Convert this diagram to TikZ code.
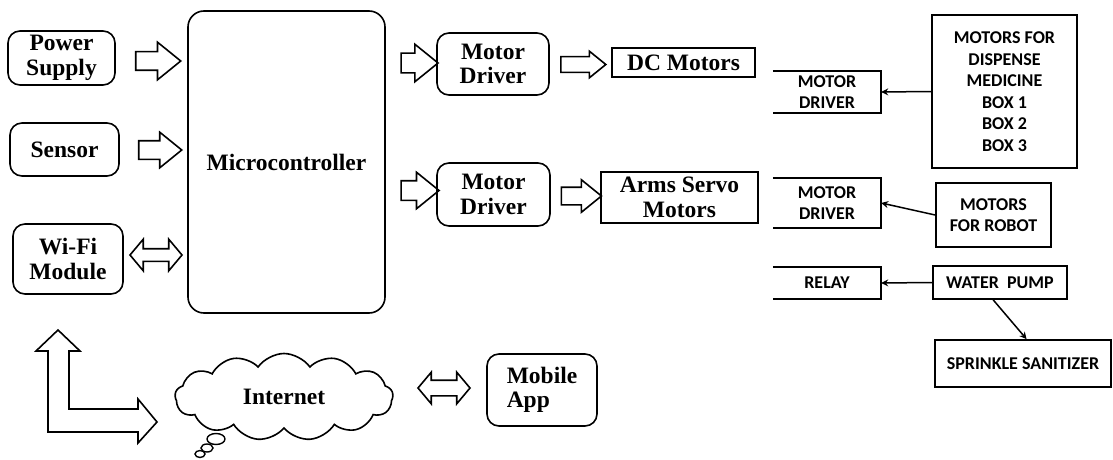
\documentclass[tikz,border=0pt]{standalone}
\usepackage{fontspec}
\setmainfont{Liberation Serif}
\newfontfamily\calibri{Carlito}
\usetikzlibrary{arrows.meta, positioning, shapes.arrows, shapes.symbols, calc}
\newcommand{\serifbig}{\bfseries\fontsize{23.5}{24.5}\selectfont}
\newcommand{\capsfont}{\calibri\bfseries\fontsize{18}{21.5}\selectfont}
\tikzset{
  rbox/.style   = {draw, line width=1.6pt, rounded corners=12pt, align=center,
                   font=\serifbig, inner sep=0pt},
  sbox/.style   = {draw, line width=1.6pt, align=center, font=\serifbig, inner sep=0pt},
  cbox/.style   = {draw, line width=1.8pt, align=center, font=\capsfont, inner sep=0pt},
  obox/.style   = {align=center, font=\capsfont, inner sep=0pt},
  frame/.style  = {line width=1.8pt},
  barrow/.style = {single arrow, draw, line width=1.6pt, inner xsep=0pt,
                   single arrow tip angle=78, miter limit=4},
  darrow/.style = {double arrow, draw, line width=1.6pt, inner xsep=0pt,
                   double arrow tip angle=100},
  link/.style   = {-{Stealth[length=7pt, width=7pt]}, line width=1.5pt},
}

\begin{document}
\begin{tikzpicture}[x=1pt, y=-1pt]
  \path[fill=white] (0,0) rectangle (1113,460);
  \useasboundingbox (0,0) rectangle (1113,460);
  % inputs and controller
  \node[rbox, minimum width=107pt, minimum height=54pt] (pwr) at (61.5,58) {Power\\Supply};
  \node[rbox, minimum width=109pt, minimum height=53pt] (sens) at (64.5,149.5) {Sensor};
  \node[rbox, minimum width=110pt, minimum height=70pt] (wifi) at (68,259) {Wi-Fi\\Module};
  \node[rbox, rounded corners=16pt, minimum width=197pt, minimum height=302pt] (mcu) at (286.5,162) {Microcontroller};
  % drivers and motors
  \node[rbox, minimum width=112pt, minimum height=62pt] (drv1) at (493,64) {Motor\\Driver};
  \node[rbox, minimum width=113pt, minimum height=63pt] (drv2) at (493.5,194.5) {Motor\\Driver};
  \node[sbox, minimum width=143pt, minimum height=29pt] (dcm) at (683.5,62.5) {DC Motors};
  \node[sbox, minimum width=157pt, minimum height=51pt] (arms) at (679.5,197.5) {Arms Servo\\Motors};
  % cloud and app
  \node[cloud, draw, line width=1.6pt, cloud puffs=13, cloud puff arc=110, aspect=2.5,
        minimum width=218pt, minimum height=87pt, inner sep=0pt, font=\serifbig] (net) at (284,397) {Internet};
  \draw[line width=1.4pt] (216,439) ellipse [x radius=9pt, y radius=5.5pt];
  \draw[line width=1.4pt] (207,448) ellipse [x radius=6pt, y radius=4pt];
  \draw[line width=1.4pt] (200,454) ellipse [x radius=5pt, y radius=3.5pt];
  \node[rbox, align=left, minimum width=110pt, minimum height=72pt] (app) at (542,390) {Mobile\\App};

  % block arrows
  \foreach \n/\x/\y/\l/\w/\s in {apwr/152.5/61/45/36/17, asens/154.5/150/43/34/17,
                                 adrv1/413.5/63/37/36/18, adrv2/414/190.5/38/35/18,
                                 adcm/578.5/64.5/45/25/14, aarms/576/196/40/31/16} {
    \node[barrow, minimum height=\l pt, minimum width=\w pt, inner ysep=\s/2 pt,
          single arrow head extend={(\w-\s)/2 pt}] (\n) at (\x,\y) {};
  }
  \node[darrow, minimum height=52pt, minimum width=30pt, inner ysep=5.5pt,
        double arrow head extend=9.5pt] (awifi) at (156,255) {};
  \node[darrow, minimum height=52pt, minimum width=30pt, inner ysep=7pt,
        double arrow head extend=8pt] (aapp) at (444,388) {};
  % wifi <-> internet
  \draw[line width=1.6pt, miter limit=4] (58,330) -- (80,351) -- (69,351) -- (69,409) -- (138,409)
    -- (138,399) -- (157,422) -- (138,443) -- (138,432) -- (48,432) -- (48,351) -- (36,351) -- cycle;

  % right side units
  \node[obox, minimum width=108pt, minimum height=42pt] (rdrv1) at (827,92) {MOTOR\\DRIVER};
  \node[obox, minimum width=108pt, minimum height=50pt] (rdrv2) at (827,203) {MOTOR\\DRIVER};
  \node[obox, minimum width=108pt, minimum height=32pt] (relay) at (827,283) {RELAY};
  \foreach \b in {rdrv1, rdrv2, relay}
    \draw[frame] (\b.north west) -- (\b.north east) -- (\b.south east) -- (\b.south west);
  \node[cbox, minimum width=145pt, minimum height=153pt] (disp) at (1004.5,91.5)
    {MOTORS FOR\\DISPENSE\\MEDICINE\\BOX 1\\BOX 2\\BOX 3};
  \node[cbox, minimum width=115pt, minimum height=64pt] (robot) at (993.5,215) {MOTORS\\FOR ROBOT};
  \node[cbox, minimum width=134pt, minimum height=33pt] (pump) at (1000,282.5) {WATER~ PUMP};
  \node[cbox, minimum width=176pt, minimum height=47pt] (spray) at (1023,363.5) {SPRINKLE SANITIZER};
  \draw[link] (disp.west) -- (rdrv1.east);
  \draw[link] (robot.west) -- (rdrv2.east);
  \draw[link] (pump.west) -- (relay.east);
  \draw[link] ($(pump.south west)!0.45!(pump.south east)$) -- ($(spray.north west)!0.52!(spray.north east)$);
\end{tikzpicture}
\end{document}
